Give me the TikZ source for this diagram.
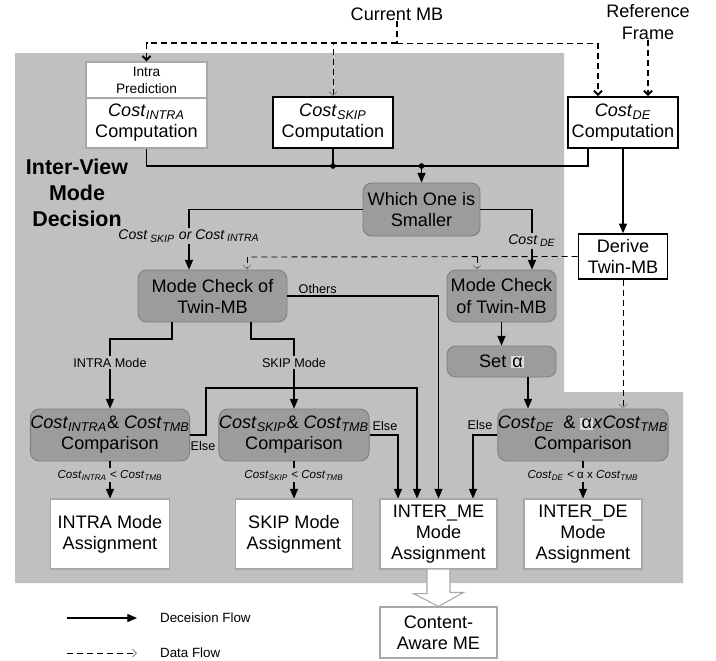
\documentclass[tikz,border=0pt]{standalone}
\usepackage{fontspec}
\setmainfont{Liberation Sans}
\usetikzlibrary{arrows.meta,calc}
\definecolor{panel}{HTML}{C0C0C0}
\definecolor{dark}{HTML}{9C9C9C}
\definecolor{darkline}{HTML}{7E7E7E}
\definecolor{pale}{HTML}{A8A8A8}
\definecolor{hilite}{HTML}{DCDCDC}
\newcommand{\cst}[1]{\textit{Cost}\textsubscript{\textit{#1}}}
\newcommand{\alfa}{{\setlength{\fboxsep}{0.6pt}\colorbox{hilite}{α}}}

\begin{document}
\begin{tikzpicture}[x=0.02cm,y=-0.02cm,
	sz/.style 2 args={minimum width=#1*0.02cm,minimum height=#2*0.02cm},
	boxtxt/.style={font=\fontsize{10.3}{12}\selectfont,align=center,inner sep=0pt},
	whitebox/.style={boxtxt,draw=pale,fill=white,line width=0.6pt},
	blackbox/.style={boxtxt,draw=black,fill=white,line width=0.9pt},
	graybox/.style={boxtxt,draw=darkline,fill=dark,rounded corners=5pt,line width=0.5pt},
	lbl/.style={font=\fontsize{7.2}{8.6}\selectfont,inner sep=1pt},
	cmplbl/.style={font=\fontsize{6.6}{8}\selectfont,fill=panel,inner sep=1pt},
	wire/.style={line width=0.6pt},
	flow/.style={wire,-{Triangle[length=5.5pt,width=4.6pt]}},
	data/.style={dash pattern=on 3.4pt off 2.3pt,line width=0.5pt},
	heavy/.style={data,line width=1.1pt},
	dtip/.style={-{Straight Barb[length=2.2pt,width=4.4pt,color=gray]}},
	dtipk/.style={-{Straight Barb[length=2.4pt,width=4.6pt]}}]
	\useasboundingbox (0,0) rectangle (716,660);
	\fill[panel] (15,53) -- (564,53) -- (564,392) -- (683,392) -- (683,583) -- (15,583) -- cycle;
	
	\node[boxtxt] (cur) at (397,14) {Current MB};
	\node[boxtxt] (ref) at (648,22) {Reference\\Frame};
	\node[font=\bfseries\fontsize{12.2}{14.8}\selectfont,align=center] (title) at (77,193) {Inter-View\\Mode\\Decision};
	
	\node[whitebox,sz={121}{36},font=\fontsize{7.8}{9.6}\selectfont] (intrapred) at (146.5,80) {Intra\\Prediction};
	\node[whitebox,sz={121}{50}] (intracost) at (146.5,123) {\cst{INTRA}\\Computation};
	\node[blackbox,sz={120}{51}] (skipcost) at (333,122.5) {\cst{SKIP}\\Computation};
	\node[blackbox,sz={110}{51}] (decost) at (623,122.5) {\cst{DE}\\Computation};
	\node[graybox,sz={117}{53}] (which) at (421.5,209.5) {Which One is\\Smaller};
	\node[blackbox,sz={89}{45}] (derive) at (623,256.5) {Derive\\Twin-MB};
	\node[graybox,sz={149}{52}] (modeL) at (212.5,296) {Mode Check of\\Twin-MB};
	\node[graybox,sz={109}{52}] (modeR) at (501.5,296) {Mode Check\\of Twin-MB};
	\node[graybox,sz={109}{31}] (setA) at (501.5,361.5) {Set \alfa};
	\node[graybox,sz={158}{52}] (cmpIntra) at (110,435) {\cst{INTRA}\& \cst{TMB}\\Comparison};
	\node[graybox,sz={146}{52}] (cmpSkip) at (294,435) {\cst{SKIP}\& \cst{TMB}\\Comparison};
	\node[graybox,sz={170}{52}] (cmpDE) at (583,435) {\cst{DE}\enspace\& \alfa\textit{x}\cst{TMB}\\Comparison};
	\node[whitebox,sz={119}{70}] (asgIntra) at (110,534) {INTRA Mode\\Assignment};
	\node[whitebox,sz={117}{70}] (asgSkip) at (294,534) {SKIP Mode\\Assignment};
	\node[whitebox,sz={117}{70}] (asgME) at (438.5,534) {INTER\_ME\\Mode\\Assignment};
	\node[whitebox,sz={118}{70}] (asgDE) at (583,534) {INTER\_DE\\Mode\\Assignment};
	\node[whitebox,sz={117}{51}] (content) at (438.5,632.5) {Content-\\Aware ME};
	
	\coordinate (split) at (397,43);
	\coordinate (splitR) at (598,43);
	\coordinate (jA) at (333,166);
	\coordinate (jB) at (421.5,166);
	\coordinate (jC) at (588,166);
	\coordinate (wl) at (189,209.5);
	\coordinate (wr) at (532,209.5);
	\coordinate (dl) at (247,257);
	\coordinate (dr) at (477,257);
	\coordinate (sa) at (528,377);
	\coordinate (ml) at (172,339);
	\coordinate (mr) at (251,339);
	\coordinate (e1) at (206,388);
	\coordinate (e2) at (417,388);
	\coordinate (e3) at (398,435);
	\coordinate (e4) at (473,435);
	
	\draw[heavy] (cur.south) -- (split);
	\draw[heavy,dtipk] (split) -| (intrapred.north);
	\draw[data,dtip] (split) -| (skipcost.north);
	\draw[data] (split) -- (splitR);
	\draw[heavy,dtipk] (splitR) -- (decost.north -| splitR);
	\draw[heavy,dtipk] (ref.south) -- (decost.north -| ref.south);
	
	\draw[wire] (intracost.south) |- (jB);
	\draw[wire] (skipcost.south) -- (jA);
	\draw[wire] (decost.south -| jC) -- (jC) -- (jB);
	\fill (jA) circle (1.6pt) (jB) circle (1.6pt);
	\draw[flow] (jB) -- (which);
	
	\draw[flow] (which.west) -- (wl) -- (modeL.north -| wl)
		node[cmplbl,font=\fontsize{8}{9}\selectfont,pos=.44] {\textit{Cost}\,\textsubscript{\textit{SKIP}} \textit{or Cost}\,\textsubscript{\textit{INTRA}}};
	\draw[flow] (which.east) -- (wr) -- (modeR.north -| wr)
		node[cmplbl,font=\fontsize{8}{9}\selectfont,pos=.52] {\textit{Cost}\,\textsubscript{\textit{DE}}};
	\draw[flow] (decost) -- (derive);
	
	\draw[data] (derive.west) -- (dl);
	\draw[data,dtip] (dl) -- (modeL.north -| dl);
	\draw[data,dtip] (dr) -- (modeR.north -| dr);
	\draw[data,dtip] (derive.south) -- (cmpDE.north -| derive.south);
	
	\draw[flow] (modeR) -- (setA);
	\draw[flow] (sa) -- (cmpDE.north -| sa);
	\draw[flow] (modeL.south -| ml) -- (ml) -| (cmpIntra.north) node[lbl,fill=panel,pos=.67] {INTRA Mode};
	\draw[flow] (modeL.south -| mr) -- (mr) -| (cmpSkip.north) node[lbl,fill=panel,pos=.67] {SKIP Mode};
	\draw[flow] (modeL.east) -| (asgME.north) node[lbl,above,pos=.1] {Others};
	
	\draw[flow] (cmpIntra.east) -| (e1) -- (e2) -- (asgME.north -| e2);
	\draw[flow] (cmpSkip.east) -- (e3) -- (asgME.north -| e3);
	\draw[flow] (cmpDE.west) -- (e4) -- (asgME.north -| e4);
	\node[lbl] (else1) at (203,446) {Else};
	\node[lbl] (else2) at (385,426) {Else};
	\node[lbl] (else3) at (480,425) {Else};
	
	\draw[flow] (cmpIntra) -- (asgIntra) node[cmplbl,pos=.37] {\cst{INTRA} < \cst{TMB}};
	\draw[flow] (cmpSkip) -- (asgSkip) node[cmplbl,pos=.37] {\cst{SKIP} < \cst{TMB}};
	\draw[flow] (cmpDE) -- (asgDE) node[cmplbl,pos=.37] {\cst{DE} < α x \cst{TMB}};
	
	\draw[draw=pale,fill=white,line width=0.6pt] ($(asgME.south)+(-11.5,0)$) -- ++(0,24) -- ++(-13.5,0)
		-- (content.north) -- ++(25,-14) -- ++(-13.5,0) -- ($(asgME.south)+(11.5,0)$);
	
	\coordinate (l1a) at (67,618);
	\coordinate (l1b) at (137,618);
	\coordinate (l2a) at (67,653);
	\coordinate (l2b) at (137,653);
	\draw[flow] (l1a) -- (l1b);
	\draw[data,dtip] (l2a) -- (l2b);
	\node[lbl,font=\fontsize{7.6}{9}\selectfont,anchor=west] (leg1) at (158,618) {Deceision Flow};
	\node[lbl,font=\fontsize{7.6}{9}\selectfont,anchor=west] (leg2) at (158,653) {Data Flow};
\end{tikzpicture}
\end{document}
